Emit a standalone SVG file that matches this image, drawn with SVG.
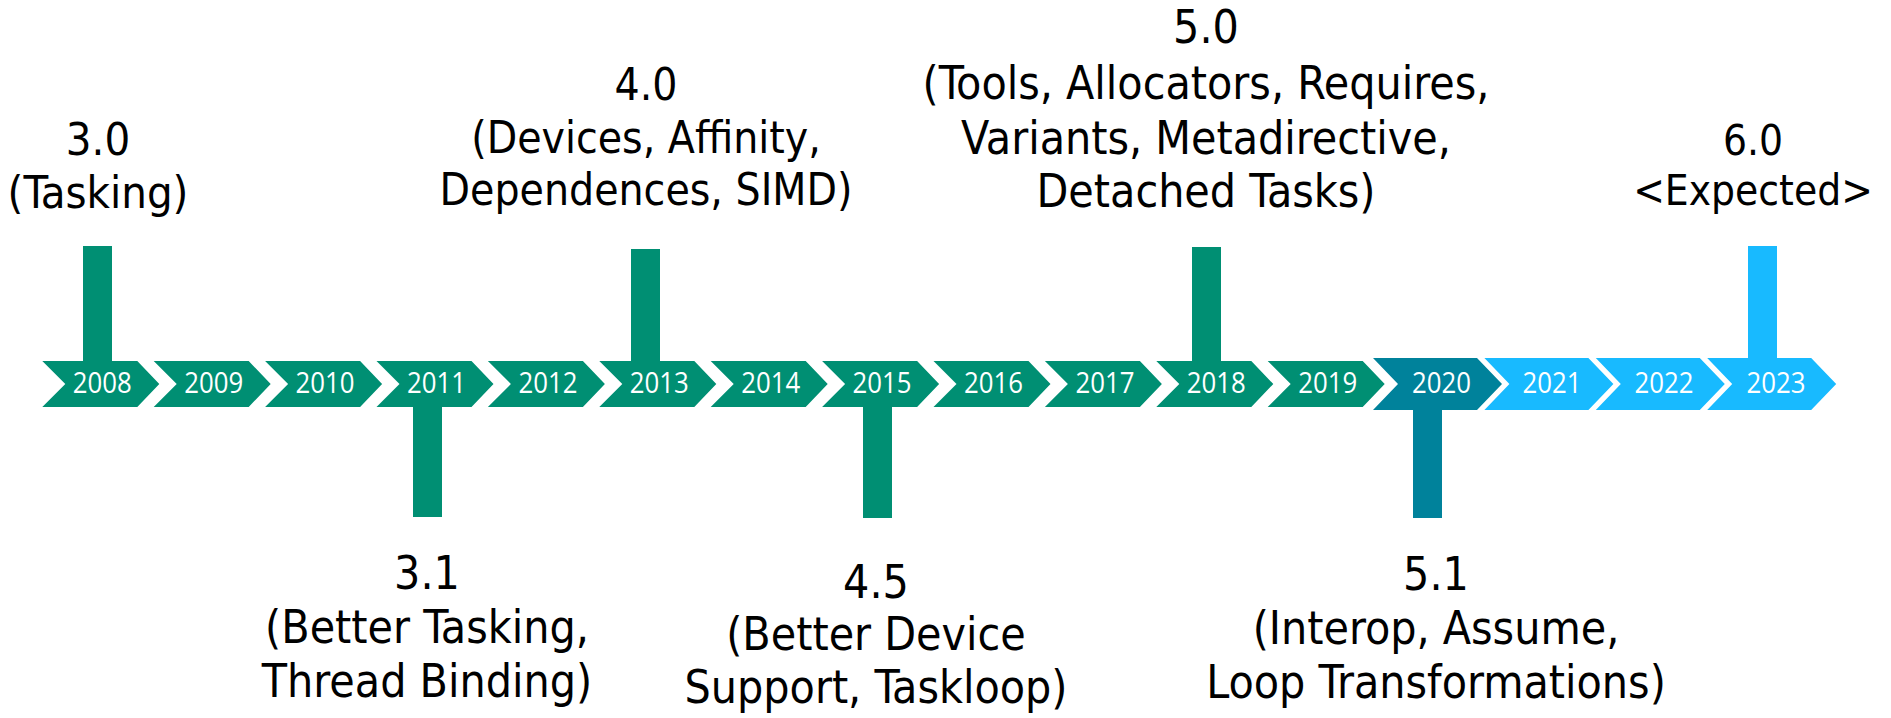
<svg xmlns="http://www.w3.org/2000/svg" width="1891" height="718" viewBox="0 0 1891 718">
  <style>
    .past { fill: #008F73; }
    .now { fill: #00829B; }
    .next { fill: #18BAFF; }
    .yr { font-family: "Open Sans", "DejaVu Sans", sans-serif; font-size: 30px; fill: #FFFFFF; text-anchor: middle; }
    .lbl { font-family: "DejaVu Sans Condensed", "DejaVu Sans", sans-serif; font-stretch: condensed; font-size: 46px; fill: #000000; text-anchor: middle; }
    .lbl.mid { font-size: 44px; }
    .lbl.sm { font-size: 42px; }
  </style>
  <defs>
    <!-- chevron shapes: small for past years, larger for the current/future ones -->
    <polygon id="chev" points="0,361 95,361 117,384 95,407 0,407 23,384"/>
    <polygon id="chevL" points="0,358 104,358 129,384 104,410 0,410 25,384"/>
  </defs>
  <rect width="1891" height="718" fill="#FFFFFF"/>

  <!-- stems tying each release to its year -->
  <g id="connectors">
    <rect class="past" x="83" y="246" width="29" height="116"/>
    <rect class="past" x="413" y="406" width="29" height="111"/>
    <rect class="past" x="631" y="249" width="29" height="113"/>
    <rect class="past" x="863" y="406" width="29" height="112"/>
    <rect class="past" x="1192" y="247" width="29" height="115"/>
    <rect class="now" x="1413" y="409" width="29" height="109"/>
    <rect class="next" x="1748" y="246" width="29" height="113"/>
  </g>

  <!-- timeline years -->
  <g id="y2008"><use href="#chev" class="past" x="42.3"/><text class="yr" transform="translate(102.3,393) scale(0.86,1)">2008</text></g>
  <g id="y2009"><use href="#chev" class="past" x="153.7"/><text class="yr" transform="translate(213.7,393) scale(0.86,1)">2009</text></g>
  <g id="y2010"><use href="#chev" class="past" x="265.1"/><text class="yr" transform="translate(325.1,393) scale(0.86,1)">2010</text></g>
  <g id="y2011"><use href="#chev" class="past" x="376.5"/><text class="yr" transform="translate(436.5,393) scale(0.86,1)">2011</text></g>
  <g id="y2012"><use href="#chev" class="past" x="487.9"/><text class="yr" transform="translate(547.9,393) scale(0.86,1)">2012</text></g>
  <g id="y2013"><use href="#chev" class="past" x="599.3"/><text class="yr" transform="translate(659.3,393) scale(0.86,1)">2013</text></g>
  <g id="y2014"><use href="#chev" class="past" x="710.7"/><text class="yr" transform="translate(770.7,393) scale(0.86,1)">2014</text></g>
  <g id="y2015"><use href="#chev" class="past" x="822.1"/><text class="yr" transform="translate(882.1,393) scale(0.86,1)">2015</text></g>
  <g id="y2016"><use href="#chev" class="past" x="933.5"/><text class="yr" transform="translate(993.5,393) scale(0.86,1)">2016</text></g>
  <g id="y2017"><use href="#chev" class="past" x="1044.9"/><text class="yr" transform="translate(1104.9,393) scale(0.86,1)">2017</text></g>
  <g id="y2018"><use href="#chev" class="past" x="1156.3"/><text class="yr" transform="translate(1216.3,393) scale(0.86,1)">2018</text></g>
  <g id="y2019"><use href="#chev" class="past" x="1267.7"/><text class="yr" transform="translate(1327.7,393) scale(0.86,1)">2019</text></g>
  <g id="y2020"><use href="#chevL" class="now" x="1373"/><text class="yr" transform="translate(1441.5,393) scale(0.86,1)">2020</text></g>
  <g id="y2021"><use href="#chevL" class="next" x="1484.4"/><text class="yr" transform="translate(1552,393) scale(0.86,1)">2021</text></g>
  <g id="y2022"><use href="#chevL" class="next" x="1595.8"/><text class="yr" transform="translate(1664,393) scale(0.86,1)">2022</text></g>
  <g id="y2023"><use href="#chevL" class="next" x="1707.2"/><text class="yr" transform="translate(1776,393) scale(0.86,1)">2023</text></g>

  <!-- release labels -->
  <g id="v30">
    <text class="lbl" x="98" y="155" style="font-size:45px">3.0</text>
    <text class="lbl" x="98" y="208" style="font-size:45px">(Tasking)</text>
  </g>
  <g id="v40">
    <text class="lbl mid" x="646" y="100">4.0</text>
    <text class="lbl mid" x="646" y="153">(Devices, Affinity,</text>
    <text class="lbl mid" x="646" y="205">Dependences, SIMD)</text>
  </g>
  <g id="v50">
    <text class="lbl" x="1206" y="43">5.0</text>
    <text class="lbl" x="1206" y="99">(Tools, Allocators, Requires,</text>
    <text class="lbl" x="1206" y="154">Variants, Metadirective,</text>
    <text class="lbl" x="1206" y="207">Detached Tasks)</text>
  </g>
  <g id="v60">
    <text class="lbl sm" x="1753" y="155">6.0</text>
    <text class="lbl sm" x="1753" y="205">&lt;Expected&gt;</text>
  </g>
  <g id="v31">
    <text class="lbl" x="427" y="589">3.1</text>
    <text class="lbl" x="427" y="643">(Better Tasking,</text>
    <text class="lbl" x="427" y="697">Thread Binding)</text>
  </g>
  <g id="v45">
    <text class="lbl" x="876" y="598">4.5</text>
    <text class="lbl" x="876" y="650">(Better Device</text>
    <text class="lbl" x="876" y="703">Support, Taskloop)</text>
  </g>
  <g id="v51">
    <text class="lbl" x="1436" y="590">5.1</text>
    <text class="lbl" x="1436" y="644">(Interop, Assume,</text>
    <text class="lbl" x="1436" y="698">Loop Transformations)</text>
  </g>
</svg>
